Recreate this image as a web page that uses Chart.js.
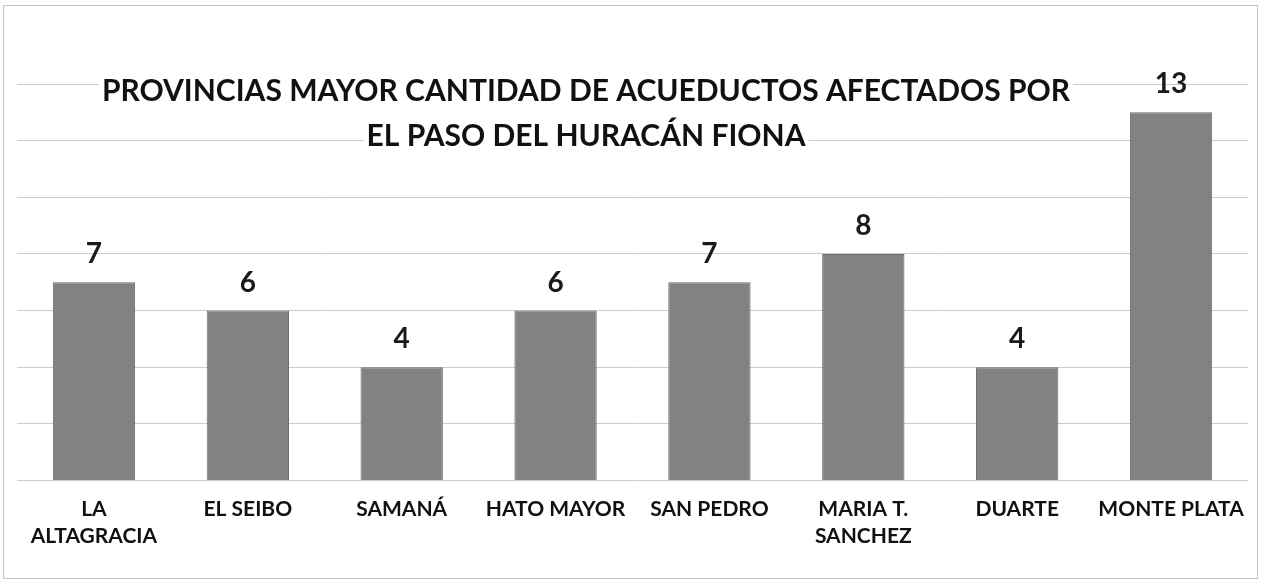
<!DOCTYPE html>
<html>
<head>
<meta charset="utf-8">
<script src="https://cdn.jsdelivr.net/npm/chart.js@4.4.1/dist/chart.umd.min.js"></script>
<style>
    html, body { margin: 0; padding: 0; background: #fff; }
    #wrap { position: relative; width: 1262px; height: 587px; }
    #frame { position: absolute; left: 3px; top: 5px; width: 1253px; height: 572px; border: 1px solid #c4c4c4; }
    canvas { position: absolute; left: 0; top: 0; }
</style>
</head>
<body>
<div id="wrap">
    <div id="frame"></div>
    <canvas id="chart" width="1262" height="587"></canvas>
</div>
<script>
const provincias = [['LA', 'ALTAGRACIA'], 'EL SEIBO', 'SAMANÁ', 'HATO MAYOR', 'SAN PEDRO', ['MARIA T.', 'SANCHEZ'], 'DUARTE', 'MONTE PLATA'];
const acueductos = [7, 6, 4, 6, 7, 8, 4, 13];
const yMin = 0;
const yMax = 14;
const yStep = 2;
const titulo = ['PROVINCIAS MAYOR CANTIDAD DE ACUEDUCTOS AFECTADOS POR', 'EL PASO DEL HURACÁN FIONA'];

// value labels above each bar
const valueLabels = {
    id: 'valueLabels',
    afterDatasetsDraw(chart) {
        const ctx = chart.ctx;
        const meta = chart.getDatasetMeta(0);
        ctx.save();
        ctx.font = 'bold 28px Lato';
        ctx.fillStyle = '#1a1a1a';
        ctx.textAlign = 'center';
        ctx.textBaseline = 'alphabetic';
        meta.data.forEach((bar, i) => {
            ctx.fillText(String(acueductos[i]), bar.x, bar.y - 19);
        });
        ctx.restore();
    }
};

// title sits over the plot area, each line on its own white box
const overlayTitle = {
    id: 'overlayTitle',
    afterDraw(chart) {
        const ctx = chart.ctx;
        const cx = 586;
        const baselines = [101, 146];
        ctx.save();
        ctx.font = 'bold 30px Lato';
        ctx.textAlign = 'center';
        ctx.textBaseline = 'alphabetic';
        titulo.forEach((line, i) => {
            const w = ctx.measureText(line).width;
            ctx.fillStyle = '#fff';
            ctx.fillRect(cx - w / 2 - 3, baselines[i] - 25, w + 6, 29);
            ctx.fillStyle = '#111';
            ctx.fillText(line, cx, baselines[i]);
        });
        ctx.restore();
    }
};

new Chart(document.getElementById('chart'), {
    type: 'bar',
    data: {
        labels: provincias,
        datasets: [{
            data: acueductos,
            backgroundColor: '#828282',
            borderColor: '#6a6a6a',
            borderWidth: 1,
            barPercentage: 0.535,
            categoryPercentage: 1
        }]
    },
    options: {
        responsive: false,
        animation: false,
        layout: {
            padding: { left: 17, right: 14, top: 84, bottom: 30 }
        },
        plugins: {
            legend: { display: false },
            title: { display: false },
            tooltip: { enabled: false }
        },
        scales: {
            x: {
                grid: { display: false },
                border: { display: false },
                ticks: {
                    color: '#111',
                    font: { family: 'Lato', size: 21, weight: 'bold', lineHeight: 1.3 },
                    padding: 7,
                    maxRotation: 0,
                    autoSkip: false
                }
            },
            y: {
                min: yMin,
                max: yMax,
                ticks: { display: false, stepSize: yStep },
                grid: { color: '#cdcdcd', lineWidth: 1, drawTicks: false },
                border: { display: false }
            }
        }
    },
    plugins: [valueLabels, overlayTitle]
});
</script>
</body>
</html>
